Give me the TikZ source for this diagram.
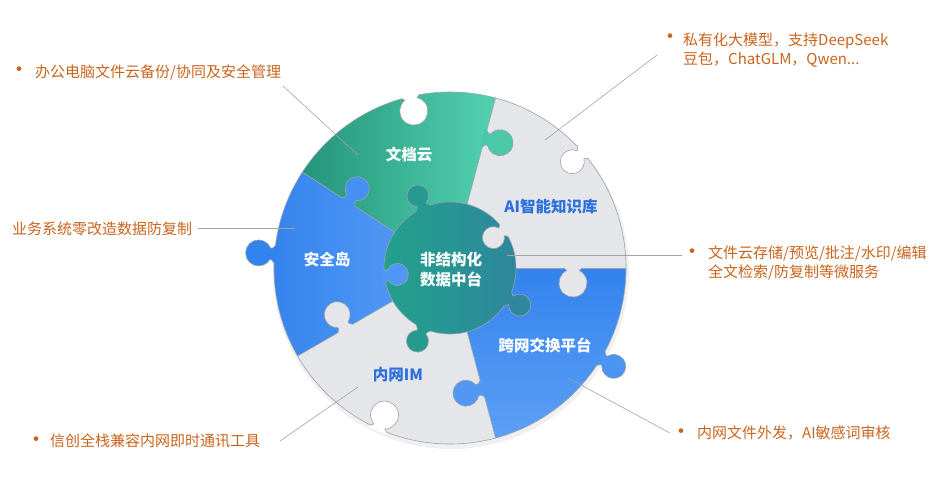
\documentclass[tikz,border=0pt]{standalone}
\usepackage{fontspec}
\setmainfont{Noto Sans CJK SC}
\usetikzlibrary{calc,positioning}

\definecolor{wdgreenA}{HTML}{24957A}
\definecolor{wdgreenB}{HTML}{52D1B0}
\definecolor{bluedA}{HTML}{3383EE}
\definecolor{bluedB}{HTML}{5C9FF5}
\definecolor{hubA}{HTML}{22A18C}
\definecolor{hubB}{HTML}{2E879C}
\definecolor{piecegray}{HTML}{E5E6E9}
\definecolor{edgegray}{HTML}{9AA3AD}
\definecolor{notecol}{HTML}{C9641C}
\definecolor{labblue}{HTML}{2C6FDD}
\definecolor{leadgray}{HTML}{A3A3A3}

\tikzset{
  edge/.style={draw=edgegray, line width=0.6pt},
  lead/.style={draw=leadgray, line width=0.6pt},
  note/.style={text=notecol, font=\fontsize{15}{18.6}\selectfont, inner sep=0pt, align=left},
  dot/.style={text=notecol, font=\fontsize{22}{22}\selectfont, inner sep=0pt},
  wlabel/.style={text=white, font=\bfseries\fontsize{15.5}{20}\selectfont, align=center, inner sep=0pt},
  blabel/.style={text=labblue, font=\bfseries\fontsize{15.5}{20}\selectfont, inner sep=0pt},
}

% #1 fill, #2 base point, #3 direction, #4 head radius, #5 head distance
\newcommand{\puzzleknob}[5]{%
  \begin{scope}[shift={#2}, x=1pt, y=1pt, rotate=-(#3)]
    \pgfmathsetmacro\knbN{0.45*#4}
    \pgfmathsetmacro\knbA{asin(0.45)}
    \pgfmathsetmacro\knbH{#5-sqrt(#4*#4-\knbN*\knbN)}
    \fill[#1] (-2.5,-\knbN-2.5) -- (0,-\knbN-2.5) .. controls (1.5,-\knbN-2.5) and (1.5,-\knbN) .. (2.5,-\knbN)
      -- (\knbH,-\knbN) arc[start angle=180+\knbA, end angle=540-\knbA, radius=#4]
      -- (2.5,\knbN) .. controls (1.5,\knbN) and (1.5,\knbN+2.5) .. (0,\knbN+2.5) -- (-2.5,\knbN+2.5) -- cycle;
    \draw[edge] (0,-\knbN-2.5) .. controls (1.5,-\knbN-2.5) and (1.5,-\knbN) .. (2.5,-\knbN)
      -- (\knbH,-\knbN) arc[start angle=180+\knbA, end angle=540-\knbA, radius=#4]
      -- (2.5,\knbN) .. controls (1.5,\knbN) and (1.5,\knbN+2.5) .. (0,\knbN+2.5);
  \end{scope}}

\begin{document}
\begin{tikzpicture}[x=1pt, y=-1pt]
\useasboundingbox (0,0) rectangle (936,480);
\coordinate (hub) at (450,268);

% pieces
\fill[black!6] ($(hub)+(1,3)$) circle (178);
\shade[left color=wdgreenA, right color=wdgreenB] (hub) -- ($(hub)+(213:176)$) arc[start angle=213, end angle=285, radius=176] -- cycle;
\fill[piecegray] (hub) -- ($(hub)+(-75:176)$) arc[start angle=-75, end angle=0, radius=176] -- cycle;
\shade[top color=bluedA, bottom color=bluedB] (hub) -- ($(hub)+(0:176)$) arc[start angle=0, end angle=75, radius=176] -- cycle;
\fill[piecegray] (hub) -- ($(hub)+(75:176)$) arc[start angle=75, end angle=150, radius=176] -- cycle;
\shade[left color=bluedA, right color=bluedB] (hub) -- ($(hub)+(150:176)$) arc[start angle=150, end angle=213, radius=176] -- cycle;
\draw[edge] (hub) circle (176);
\foreach \a in {-75,0,75,150,213}
  \draw[edge] ($(hub)+(\a:66)$) -- ($(hub)+(\a:176)$);
\shade[left color=hubA, right color=hubB] (hub) circle (66);
\draw[edge] (hub) circle (66);

% rim notches and outward tabs
\puzzleknob{white}{($(hub)+(-103:176)$)}{77}{14}{15}
\puzzleknob{white}{($(hub)+(-41:176)$)}{139}{12}{14}
\puzzleknob{white}{($(hub)+(114:176)$)}{294}{14}{15}
\puzzleknob{bluedB!59!bluedA}{($(hub)+(31:176)$)}{31}{12}{15}
\puzzleknob{bluedA}{($(hub)+(184.5:176)$)}{184.5}{13}{16}
% tabs across the cuts
\puzzleknob{wdgreenB!85!wdgreenA}{($(hub)+(-75:134)$)}{15}{13}{16}
\puzzleknob{bluedB!47!bluedA}{($(hub)+(213:121)$)}{303}{12}{16}
\puzzleknob{piecegray}{($(hub)+(0:123)$)}{90}{14}{15}
\puzzleknob{bluedB!75!bluedA}{($(hub)+(75:125)$)}{165}{13}{17}
\puzzleknob{piecegray}{($(hub)+(150:121)$)}{240}{13}{16}
% hub tabs
\puzzleknob{hubB!26!hubA}{($(hub)+(-114:66)$)}{-114}{11}{13}
\puzzleknob{hubB}{($(hub)+(28:66)$)}{28}{11}{13}
\puzzleknob{hubB!25!hubA}{($(hub)+(114:66)$)}{114}{11}{14}
\puzzleknob{piecegray}{($(hub)+(-35:66)$)}{145}{11}{13}
\puzzleknob{bluedB!70!bluedA}{($(hub)+(173:66)$)}{353}{11}{13}

% leader ends
\coordinate (wdy-end) at (358,155);
\coordinate (wdy-tip) at (283,86);
\coordinate (ai-end) at (545,140);
\coordinate (ai-tip) at (657,55);
\coordinate (aqd-end) at (295,228);
\coordinate (aqd-tip) at (198,228);
\coordinate (hub-end) at (507,255);
\coordinate (hub-tip) at (682,255);
\coordinate (im-end) at (358,387);
\coordinate (im-tip) at (280,441);
\coordinate (kw-end) at (568,378);
\coordinate (kw-tip) at (670,433);

\draw[lead] (wdy-tip) -- (wdy-end);
\draw[lead] (ai-end) -- (ai-tip);
\draw[lead] (aqd-tip) -- (aqd-end);
\draw[lead] (hub-end) -- (hub-tip);
\draw[lead] (im-end) -- (im-tip);
\draw[lead] (kw-end) -- (kw-tip);

% piece labels
\node[wlabel] (wdy-label) at (409,155) {文档云};
\node[blabel] (ai-label) at (551,207) {AI智能知识库};
\node[wlabel] (aqd-label) at (327,260) {安全岛};
\node[wlabel] (hub-label) at (451,270) {非结构化\\数据中台};
\node[wlabel] (kw-label) at (545,345) {跨网交换平台};
\node[blabel] (im-label) at (398,375) {内网IM};

% notes
\node[dot] (wdy-dot) at (20,72) {•};
\node[note, anchor=west] (wdy-note) at (35,72) {办公电脑文件云备份/协同及安全管理};
\node[dot] (ai-dot) at (670,39) {•};
\node[note, anchor=west] (ai-note) at (683,50) {私有化大模型，支持DeepSeek\\豆包，ChatGLM，Qwen...};
\node[note, anchor=west] (aqd-note) at (12,229) {业务系统零改造数据防复制};
\node[dot] (hub-dot) at (692,254) {•};
\node[note, anchor=west] (hub-note) at (708,263) {文件云存储/预览/批注/水印/编辑\\全文检索/防复制等微服务};
\node[dot] (im-dot) at (36,442) {•};
\node[note, anchor=west] (im-note) at (50,441) {信创全栈兼容内网即时通讯工具};
\node[dot] (kw-dot) at (681,434) {•};
\node[note, anchor=west] (kw-note) at (697,433) {内网文件外发，AI敏感词审核};
\end{tikzpicture}
\end{document}
